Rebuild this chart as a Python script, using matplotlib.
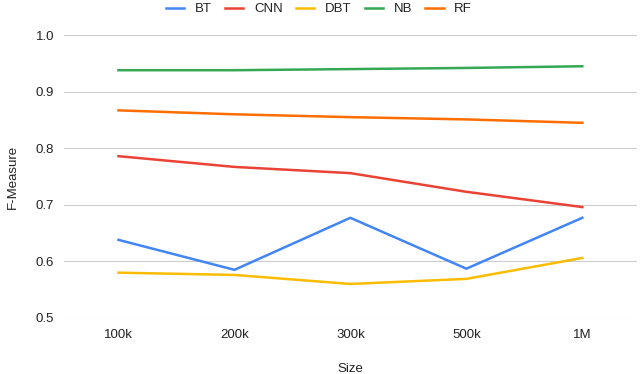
import matplotlib
matplotlib.use("Agg")
import matplotlib.pyplot as plt

plt.rcParams['font.family'] = ['Liberation Sans', 'DejaVu Sans']

sizes = ["100k", "200k", "300k", "500k", "1M"]
bt = [0.638, 0.585, 0.677, 0.587, 0.677]
cnn = [0.786, 0.767, 0.756, 0.723, 0.696]
dbt = [0.580, 0.576, 0.560, 0.569, 0.606]
nb = [0.938, 0.938, 0.940, 0.942, 0.945]
rf = [0.867, 0.860, 0.855, 0.851, 0.845]

series = [("BT", bt, "#4285F4"), ("CNN", cnn, "#EA4335"), ("DBT", dbt, "#FBBC04"),
          ("NB", nb, "#34A853"), ("RF", rf, "#FF6D01")]

fig = plt.figure(figsize=(6.4, 3.74), dpi=100)
ax = fig.add_axes([0.1, 0.15, 0.895, 0.756])

x = range(len(sizes))
for name, vals, col in series:
    ax.plot(x, vals, color=col, linewidth=1.8, label=name)

ax.set_xlim(-0.47, 4.47)
ax.set_ylim(0.5, 1.0)
ax.set_yticks([0.5, 0.6, 0.7, 0.8, 0.9, 1.0])
ax.set_yticklabels(["0.5", "0.6", "0.7", "0.8", "0.9", "1.0"])
ax.set_xticks(list(x))
ax.set_xticklabels(sizes)
ax.grid(axis='y', color='#cccccc', linewidth=0.8)
ax.set_axisbelow(True)
for s in ax.spines.values():
    s.set_visible(False)
ax.tick_params(length=0, labelsize=9.5, colors='#222222', pad=7)
ax.tick_params(axis='x', pad=8)

ax.set_xlabel("Size", fontsize=9.5, color='#222222')
ax.xaxis.set_label_coords(0.5, -0.158)
ax.set_ylabel("F-Measure", fontsize=9.5, color='#222222', labelpad=12)

ax.legend(loc='upper center', bbox_to_anchor=(0.445, 1.155), ncol=5, frameon=False,
          fontsize=9.5, handlelength=1.4, handleheight=0.5, columnspacing=1.0,
          labelcolor='#222222')

plt.savefig("out.png", dpi=100)
